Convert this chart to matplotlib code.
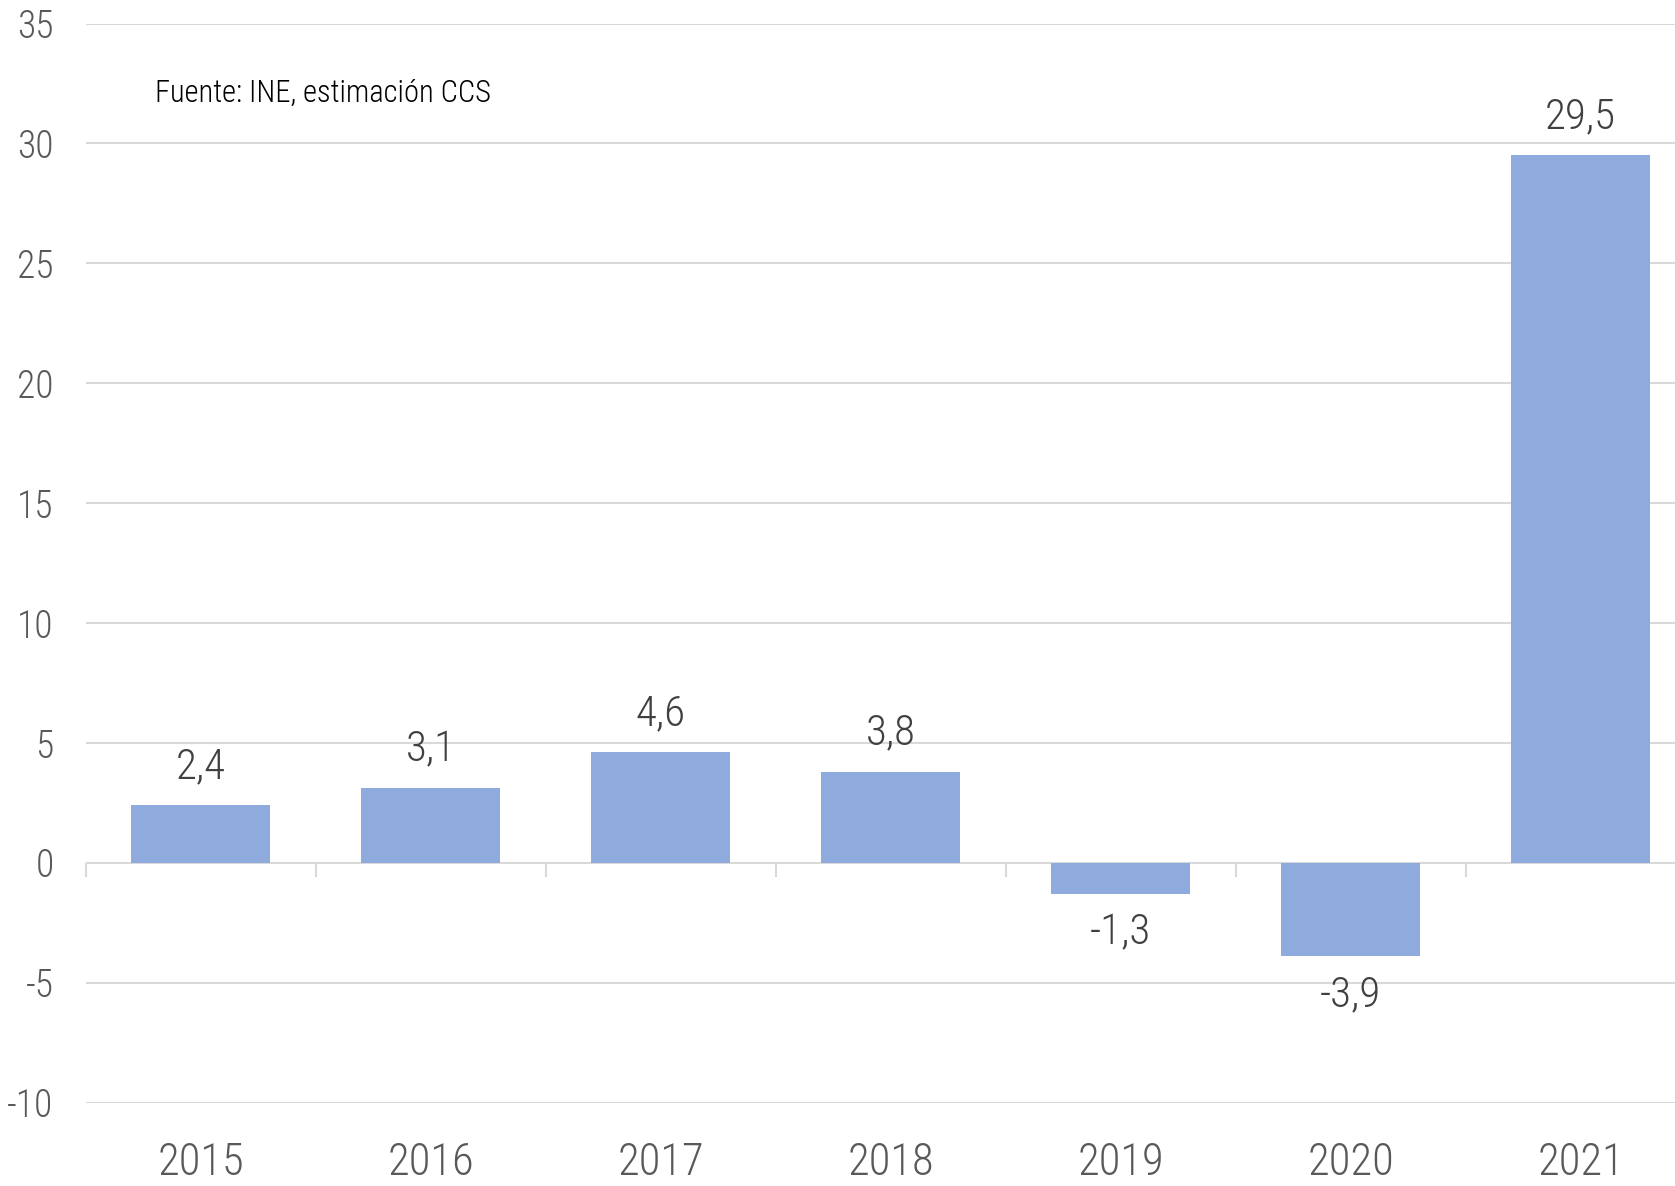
import matplotlib
matplotlib.use("Agg")
import matplotlib.pyplot as plt
from matplotlib import font_manager as fm
import numpy as np

years = ["2015", "2016", "2017", "2018", "2019", "2020", "2021"]
values = [2.4, 3.1, 4.6, 3.8, -1.3, -3.9, 29.5]
labels = ["2,4", "3,1", "4,6", "3,8", "-1,3", "-3,9", "29,5"]
yticks = [-10, -5, 0, 5, 10, 15, 20, 25, 30, 35]
source = "Fuente: INE, estimación CCS"

avail = {f.name for f in fm.fontManager.ttflist}
fam = "DejaVu Sans"
for cand in ["Roboto Condensed", "Oswald", "Liberation Sans Narrow", "Open Sans Condensed", "Roboto"]:
    if cand in avail:
        fam = cand
        break
plt.rcParams["font.family"] = [fam, "DejaVu Sans"]
plt.rcParams["font.weight"] = "light"

W, H = 1675, 1186
fig = plt.figure(figsize=(W / 100, H / 100), dpi=100)
left = 85.5 / W
width = 1610 / W
bottom = (H - 1102.5) / H
top = (H - 23.5) / H
ax = fig.add_axes([left, bottom, width, top - bottom])

x = np.arange(len(years))
bar_color = "#8FAADC"
ax.bar(x, values, width=0.605, color=bar_color, zorder=3)

ax.set_xlim(-0.5, len(years) - 0.5)
ax.set_ylim(-10, 35)
ax.set_yticks(yticks)
ax.set_yticklabels([str(t) for t in yticks])
ax.yaxis.grid(True, color="#d9d9d9", linewidth=1.5, zorder=0)
ax.set_axisbelow(True)
for s in ax.spines.values():
    s.set_visible(False)

ax.tick_params(axis="y", length=0, pad=23, labelsize=27, labelcolor="#595959")
ax.set_xticks(x)
ax.set_xticklabels(years)
ax.tick_params(axis="x", length=0, pad=28, labelsize=32, labelcolor="#595959")

# category boundary ticks hanging from the zero line
bounds = np.arange(len(years) + 1) - 0.5
ax.vlines(bounds, -0.6, 0, color="#d9d9d9", linewidth=1.5, zorder=2, clip_on=False)

for xi, v, lab in zip(x, values, labels):
    if v >= 0:
        ax.annotate(lab, (xi, v), xytext=(0, 13), textcoords="offset points",
                    ha="center", va="bottom", fontsize=31, color="#404040")
    else:
        ax.annotate(lab, (xi, v), xytext=(0, -13), textcoords="offset points",
                    ha="center", va="top", fontsize=31, color="#404040")

fig.text(155 / W, 1 - 93 / H, source, ha="left", va="center", fontsize=22, color="black")

fig.savefig("out.png", dpi=100)
